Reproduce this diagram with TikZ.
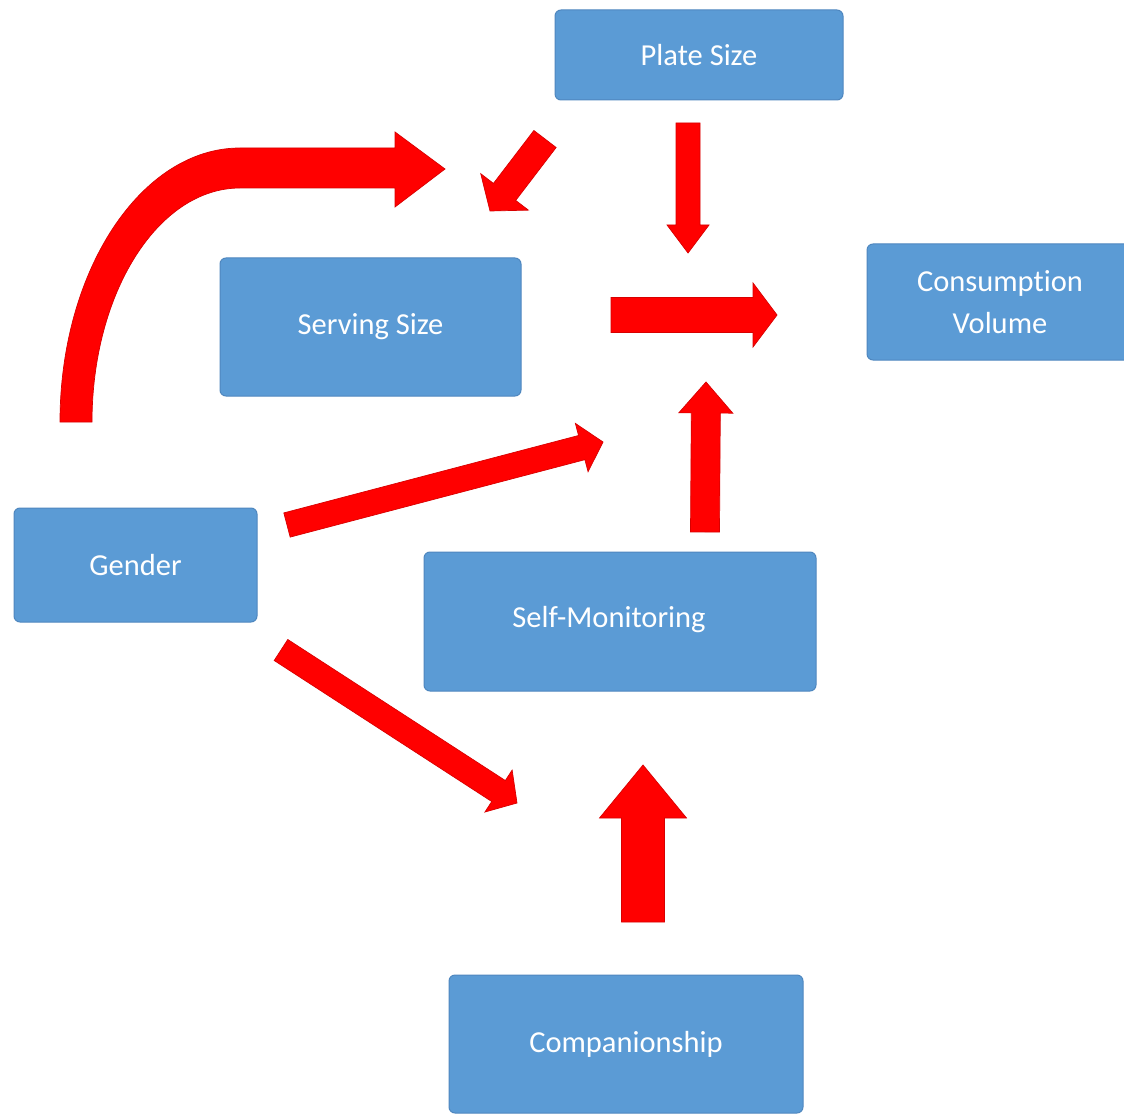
\documentclass[tikz,border=0pt]{standalone}
\usepackage{fontspec}
\setmainfont{Carlito}[Ligatures=NoCommon]
\usetikzlibrary{calc}
\definecolor{boxblue}{HTML}{5B9BD5}
\definecolor{boxedge}{HTML}{4F87BF}
\definecolor{arrowred}{HTML}{FF0000}
\definecolor{arrowedge}{HTML}{D80000}
\newcommand{\blockarrow}[5]{% #1 tail, #2 tip, #3 shaft half width, #4 head half width, #5 head length
  \coordinate (hb) at ($(#2)!#5!(#1)$);
  \filldraw[redarrow] ($(#1)!#3!90:(#2)$) -- ($(hb)!#3!90:(#2)$) -- ($(hb)!#4!90:(#2)$)
    -- (#2) -- ($(hb)!#4!-90:(#2)$) -- ($(hb)!#3!-90:(#2)$) -- ($(#1)!#3!-90:(#2)$) -- cycle;
}
\begin{document}
\begin{tikzpicture}[x=1pt,y=-1pt,
  box/.style={draw=boxedge, line width=1pt, fill=boxblue, rounded corners=6pt,
    inner sep=0pt, text=white, align=center,
    font=\fontsize{30.5}{42}\selectfont},
  redarrow/.style={fill=arrowred, draw=arrowedge, line width=0.7pt, line join=miter}]
\useasboundingbox (0,0) rectangle (1124,1115);
\fill[white] (0,0) rectangle (1124,1115);

% boxes
\node[box, minimum width=288pt, minimum height=90pt] (plate) at (699,55) {Plate Size};
\node[box, minimum width=266pt, minimum height=116pt] (cons) at (1000,302) {Consumption\\Volume};
\node[box, minimum width=301pt, minimum height=138pt] (serv) at (370.5,327) {Serving Size};
\node[box, minimum width=243pt, minimum height=114pt] (gender) at (135.5,565) {Gender};
\node[box, minimum width=392pt, minimum height=139pt] (self) at (620,621.5) {};
\node[font=\fontsize{30.5}{42}\selectfont, text=white] (selftext) at (609,620) {Self-Monitoring};
\node[box, minimum width=354pt, minimum height=138pt] (comp) at (626,1044) {Companionship};

% arrow end points
\coordinate (a2s) at (545,139);  \coordinate (a2e) at (490,211);
\coordinate (a3s) at (688,123);  \coordinate (a3e) at (688,253);
\coordinate (a4s) at (611,315);  \coordinate (a4e) at (777,315);
\coordinate (a5s) at (705,532);  \coordinate (a5e) at (706,382);
\coordinate (a6s) at (287,525);  \coordinate (a6e) at (603,442);
\coordinate (a7s) at (281,650);  \coordinate (a7e) at (517,803);
\coordinate (a8s) at (643,922);  \coordinate (a8e) at (643,765);

% curved arrow from Gender upward
\filldraw[redarrow] (60,422) .. controls (60,271) and (141,148) .. (240,148) -- (395,148)
  -- (395,132) -- (445,169) -- (395,207) -- (395,188) -- (240,188)
  .. controls (158,188) and (92,293) .. (92,422) -- cycle;

\blockarrow{a2s}{a2e}{14pt}{30pt}{24pt}
\blockarrow{a3s}{a3e}{12pt}{21pt}{28pt}
\blockarrow{a4s}{a4e}{17.5pt}{32pt}{24pt}
\blockarrow{a5s}{a5e}{14.5pt}{27pt}{31pt}
\blockarrow{a6s}{a6e}{12.5pt}{25pt}{22pt}
\blockarrow{a7s}{a7e}{12.5pt}{25pt}{22pt}
\blockarrow{a8s}{a8e}{21.5pt}{43.5pt}{53pt}
\end{tikzpicture}
\end{document}
